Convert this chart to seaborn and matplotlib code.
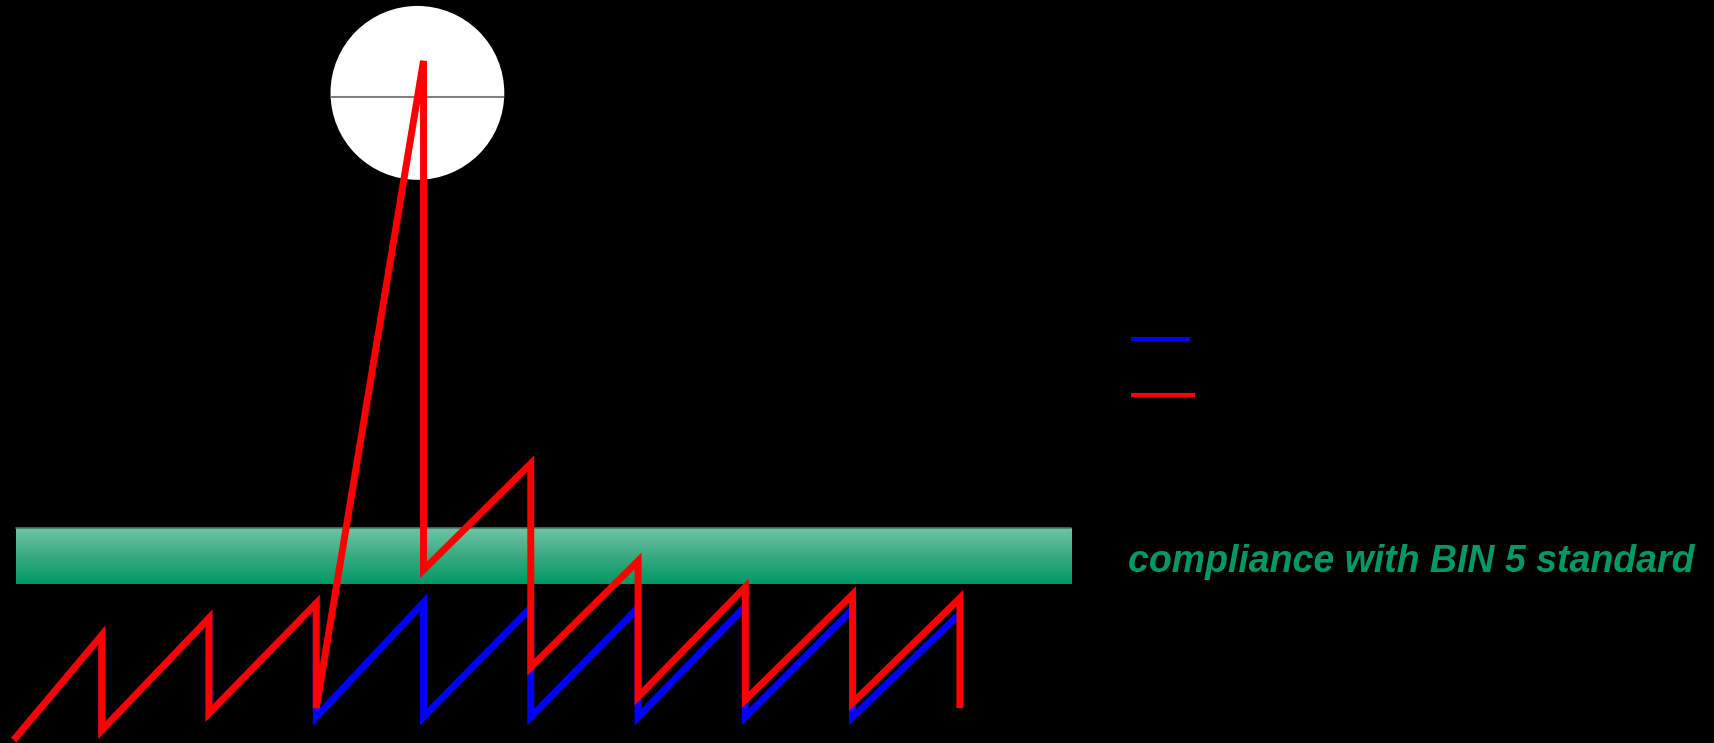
import numpy as np
import pandas as pd
import matplotlib.pyplot as plt
import seaborn as sns
from matplotlib.patches import Ellipse

sns.set_style("white")
plt.rcParams['font.family'] = ['Liberation Sans', 'DejaVu Sans']

# cycle number (x) and emission level (y, arbitrary units)
red_x = [0.18, 1, 1, 2, 2, 3, 3, 4, 4, 5, 5, 6, 6, 7, 7, 8, 8, 9, 9]
red_y = [0.4, 14.5, 1.7, 16.8, 4.0, 18.8, 4.7, 91.8, 23.3, 37.6, 10.2,
         24.5, 6.2, 21.0, 5.8, 20.0, 5.4, 19.5, 4.7]
blue_x = [0.18, 1, 1, 2, 2, 3, 3, 4, 4, 5, 5, 6, 6, 7, 7, 8, 8, 9]
blue_y = [0.4, 14.5, 1.7, 16.8, 4.0, 18.8, 3.5, 18.9, 3.5, 18.2, 3.5,
          18.2, 3.5, 18.4, 3.5, 18.0, 3.5, 17.4]

band_x = (0.20, 10.04)
band_y = (21.4, 28.9)
band_label = "compliance with BIN 5 standard"

spike_center = (3.943, 87.5)

red = pd.DataFrame({"x": red_x, "y": red_y})
blue = pd.DataFrame({"x": blue_x, "y": blue_y})

fig = plt.figure(figsize=(17.14, 7.43), dpi=100, facecolor='black')
ax = fig.add_axes([0, 0, 1, 1])
ax.set_facecolor('black')
ax.set_xlim(0.052, 16.03)
ax.set_ylim(0, 100)
ax.axis('off')

# green compliance band with vertical gradient
grad = np.linspace(0, 1, 100).reshape(-1, 1)
cmap = plt.matplotlib.colors.LinearSegmentedColormap.from_list(
    "band", ["#009966", "#3aaa80", "#6cc6a5"])
ax.imshow(grad, cmap=cmap, origin='lower', aspect='auto', zorder=1,
          extent=[band_x[0], band_x[1], band_y[0], band_y[1]])
ax.plot(band_x, [band_y[1], band_y[1]], color='#4a7a66', lw=1.2, zorder=1.1)

# white circle round the spike
circ = Ellipse(spike_center, width=1.62, height=23.4, facecolor='white',
               edgecolor='none', zorder=2)
ax.add_patch(circ)
ax.hlines(spike_center[1] - 0.5, spike_center[0] - 0.81, spike_center[0] + 0.81,
          color='#808080', lw=1.5, zorder=2.1)

sns.lineplot(data=blue, x="x", y="y", sort=False, estimator=None, ax=ax,
             color='#0000ff', lw=5, zorder=3)
sns.lineplot(data=red, x="x", y="y", sort=False, estimator=None, ax=ax,
             color='#ff0000', lw=5, zorder=4)
for ln in ax.lines[-2:]:
    ln.set_solid_joinstyle('miter')
    ln.set_solid_capstyle('butt')

# legend keys (labels were black on black)
ax.plot([0.660, 0.694], [0.544, 0.544], transform=ax.transAxes,
        color='#0000ff', lw=3, solid_capstyle='butt')
ax.plot([0.660, 0.697], [0.468, 0.468], transform=ax.transAxes,
        color='#ff0000', lw=3, solid_capstyle='butt')

ax.text(0.658, 0.2301, band_label, transform=ax.transAxes, color='#009966',
        fontsize=27, fontweight='bold', fontstyle='italic', va='baseline')

fig.savefig("out.png", dpi=100, facecolor='black')
